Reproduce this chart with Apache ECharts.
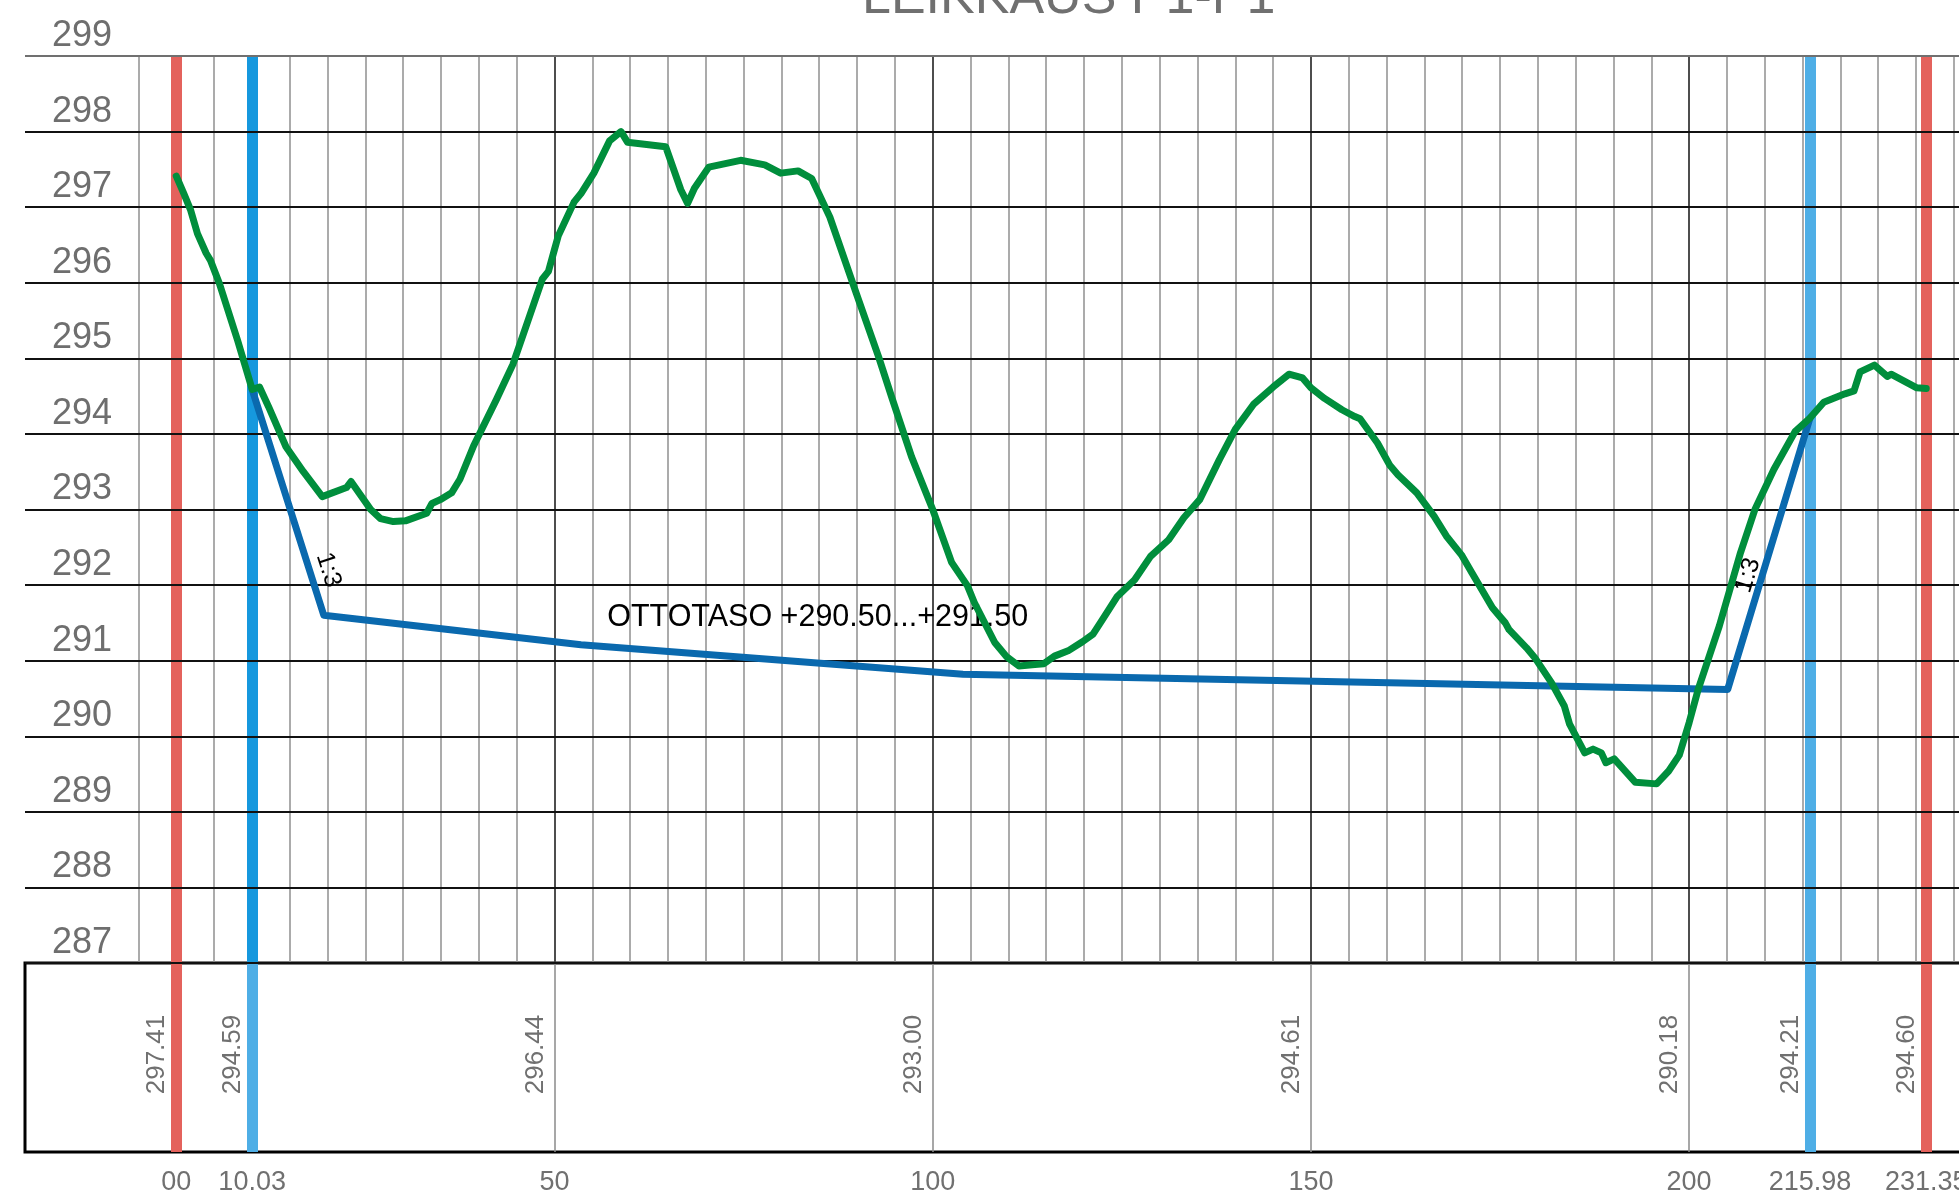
<!DOCTYPE html>
<html>
<head>
<meta charset="utf-8">
<script src="https://cdn.jsdelivr.net/npm/echarts@6/dist/echarts.min.js"></script>
<style>
html,body{margin:0;padding:0;background:#fff;overflow:hidden}
#c{width:1959px;height:1194px}
</style>
</head>
<body>
<div id="c"></div>
<script>
// ---------------- DATA ----------------
const chartTitle = 'LEIKKAUS P1-P1';

// ground profile (station, elevation)
const groundProfile = [
  [0, 297.41],[1.0, 297.18],[1.9, 296.96],[2.8, 296.65],[3.95, 296.39],[4.5, 296.30],[5.7, 295.99],
  [8.1, 295.24],[10.03, 294.59],[11.0, 294.62],[12.2, 294.36],[14.5, 293.83],[16.8, 293.5],[19.3, 293.17],
  [22.5, 293.29],[23.1, 293.37],[25.7, 293.0],[27.0, 292.88],[28.7, 292.84],[30.3, 292.85],[33.1, 292.95],
  [33.8, 293.08],[34.9, 293.13],[36.4, 293.22],[37.5, 293.4],[39.3, 293.84],[42.3, 294.45],[44.5, 294.92],
  [46.5, 295.5],[48.4, 296.05],[49.2, 296.15],[50, 296.44],[50.5, 296.62],[52.6, 297.07],[53.5, 297.18],
  [55.2, 297.45],[57.3, 297.88],[58.8, 298.0],[59.65, 297.86],[64.7, 297.8],[66.7, 297.23],[67.6, 297.05],
  [68.5, 297.25],[70.4, 297.53],[74.6, 297.62],[77.8, 297.56],[79.9, 297.45],[82.2, 297.48],[84.0, 297.38],
  [86.4, 296.87],[89.9, 295.86],[92.85, 295.02],[94.6, 294.48],[97.2, 293.7],[100, 293.0],[102.5, 292.3],
  [104.6, 291.99],[105.5, 291.77],[108.2, 291.24],[109.8, 291.05],[111.4, 290.93],[113.5, 290.95],
  [114.7, 290.96],[116.1, 291.06],[117.9, 291.13],[119.8, 291.25],[121.2, 291.35],[122.8, 291.6],
  [124.4, 291.85],[126.7, 292.07],[128.8, 292.38],[131.2, 292.6],[133.2, 292.89],[135.3, 293.13],
  [137.9, 293.66],[140.0, 294.06],[142.4, 294.39],[145.0, 294.62],[147.1, 294.79],[148.9, 294.74],
  [150, 294.61],[151.8, 294.47],[154.1, 294.32],[155.8, 294.23],[156.5, 294.2],[158.8, 293.88],
  [160.4, 293.59],[161.5, 293.46],[164.0, 293.22],[166.3, 292.91],[167.9, 292.65],[169.9, 292.4],
  [171.3, 292.16],[174.0, 291.7],[175.7, 291.5],[176.2, 291.41],[178.5, 291.17],[179.6, 291.04],
  [181.8, 290.71],[183.5, 290.4],[184.2, 290.16],[186.2, 289.78],[187.3, 289.83],[188.4, 289.78],
  [189.0, 289.65],[190.1, 289.70],[192.9, 289.39],[195.7, 289.37],[197.3, 289.54],[198.7, 289.75],
  [200, 290.18],[201.2, 290.62],[204.0, 291.46],[206.8, 292.43],[208.7, 293.0],[211.2, 293.53],
  [214.0, 294.03],[215.98, 294.21],[217.8, 294.42],[220.6, 294.53],[221.8, 294.57],[222.6, 294.82],
  [224.5, 294.91],[226.2, 294.76],[226.7, 294.79],[230.1, 294.61],[231.35, 294.60]
];

// excavation level (design) line
const designProfile = [
  [10.03, 294.59],[19.5, 291.6],[53.5, 291.21],[104.0, 290.82],[205.1, 290.62],[215.98, 294.21]
];

const redStations = [0, 231.35];
const blueStations = [10.03, 215.98];
const majorStations = [50, 100, 150, 200];

const boxStations = [0, 10.03, 50, 100, 150, 200, 215.98, 231.35];
const boxLabels = ['297.41', '294.59', '296.44', '293.00', '294.61', '290.18', '294.21', '294.60'];
const xTickLabels = ['00', '10.03', '50', '100', '150', '200', '215.98', '231.35'];

const annotationTexts = ['OTTOTASO +290.50...+291.50', '1:3', '1:3'];
const annotationAnchors = [[84.8, 291.57], [20.1, 292.2], [207.8, 292.13]];

const yMin = 287, yMax = 299, yStep = 1;
const xGridMin = -20, xLinesMin = -5, xMax = 235.68, xStep = 5;

// ---------------- LAYOUT / STYLE ----------------
const W = 1959, H = 1194;
const LEFT = 25, TOP = 56, PLOT_BOTTOM = 963, BOX_BOTTOM = 1152;
const scale = (W - LEFT) / (xMax - xGridMin);
const leftB = LEFT + (xLinesMin - xGridMin) * scale;
const maxC = xGridMin + (W + 10 - LEFT) / scale;
const FONT = "'Liberation Sans', Arial, Helvetica, sans-serif";
const RED = '#e4625c', BLUE_DARK = '#1698de', BLUE_LIGHT = '#4eaee6';
const annotationRot = [0, -72, 73];
const annotationSize = [30.5, 25, 25];
const annotationShift = [[0, 0], [0, 0], [0, 0]];

const nLines = Math.round((yMax - yMin) / yStep) + 1;
const hLineColors = [];
for (let i = 0; i < nLines; i++) hLineColors.push(i === nLines - 1 ? '#707070' : '#111111');

const chart = echarts.init(document.getElementById('c'), null, {renderer: 'canvas'});

const option = {
  animation: false,
  backgroundColor: '#ffffff',
  title: {
    text: chartTitle, left: 862, top: -27, padding: 0,
    textStyle: {fontSize: 52, fontWeight: 'normal', color: '#707070', fontFamily: FONT}
  },
  grid: [
    {left: LEFT, right: 0, top: TOP, bottom: H - PLOT_BOTTOM, containLabel: false, outerBoundsMode: 'none'},
    {left: leftB, right: 0, top: TOP, bottom: H - PLOT_BOTTOM, containLabel: false, outerBoundsMode: 'none'},
    {left: LEFT, right: -10, top: PLOT_BOTTOM, height: BOX_BOTTOM - PLOT_BOTTOM, show: true,
     borderColor: '#000', borderWidth: 3, backgroundColor: 'rgba(0,0,0,0)', containLabel: false, outerBoundsMode: 'none'}
  ],
  xAxis: [
    {gridIndex: 0, type: 'value', min: xGridMin, max: xMax, show: false},
    {gridIndex: 1, type: 'value', min: xLinesMin, max: xMax, interval: xStep, z: 0,
     axisLine: {show: false}, axisTick: {show: false}, axisLabel: {show: false},
     splitLine: {show: true, showMaxLine: false, lineStyle: {color: '#8f8f8f', width: 1.5}}},
    {gridIndex: 2, type: 'value', min: xGridMin, max: maxC, position: 'bottom',
     axisLine: {show: false}, axisTick: {show: false}, splitLine: {show: false},
     axisLabel: {show: true, customValues: boxStations, hideOverlap: false, margin: 17,
       fontSize: 27, color: '#707070', fontFamily: FONT,
       formatter: function (v) { const i = boxStations.indexOf(v); return i >= 0 ? xTickLabels[i] : ''; }}}
  ],
  yAxis: [
    {gridIndex: 0, type: 'value', min: yMin, max: yMax, interval: yStep, z: 3,
     axisLine: {show: false}, axisTick: {show: false},
     axisLabel: {inside: true, align: 'right', margin: 87, fontSize: 36, color: '#6e6e6e',
       fontFamily: FONT, verticalAlign: 'bottom', lineHeight: 36, padding: [0, 0, 2, 0]},
     splitLine: {show: true, lineStyle: {color: hLineColors, width: 2}}},
    {gridIndex: 1, type: 'value', min: yMin, max: yMax, show: false},
    {gridIndex: 2, type: 'value', min: 0, max: 1, show: false}
  ],
  series: [
    // major vertical grid lines + stake lines (upper part)
    {type: 'line', xAxisIndex: 1, yAxisIndex: 1, data: [], silent: true, z: 1,
     markLine: {silent: true, z: 1, symbol: ['none', 'none'], label: {show: false}, animation: false,
       lineStyle: {color: '#2e2e2e', width: 1.5, type: 'solid'},
       data: majorStations.map(s => ({xAxis: s}))}},
    {type: 'line', xAxisIndex: 1, yAxisIndex: 1, data: [], silent: true, z: 2,
     markLine: {silent: true, z: 2, symbol: ['none', 'none'], label: {show: false}, animation: false,
       data: redStations.map(s => ({xAxis: s, lineStyle: {color: RED, width: 11, type: 'solid', opacity: 1}}))
         .concat(blueStations.map((s, i) => ({xAxis: s, lineStyle: {color: i === 0 ? BLUE_DARK : BLUE_LIGHT, width: 11, type: 'solid', opacity: 1}})))}},
    // lower box lines
    {type: 'line', xAxisIndex: 2, yAxisIndex: 2, data: [], silent: true, z: 1,
     markLine: {silent: true, z: 1, symbol: ['none', 'none'], label: {show: false}, animation: false,
       lineStyle: {color: '#8a8a8a', width: 1.5, type: 'solid'},
       data: majorStations.map(s => ({xAxis: s}))}},
    {type: 'line', xAxisIndex: 2, yAxisIndex: 2, data: [], silent: true, z: 2,
     markLine: {silent: true, z: 2, symbol: ['none', 'none'], label: {show: false}, animation: false,
       data: redStations.map(s => ({xAxis: s, lineStyle: {color: RED, width: 11, type: 'solid', opacity: 1}}))
         .concat(blueStations.map(s => ({xAxis: s, lineStyle: {color: BLUE_LIGHT, width: 11, type: 'solid', opacity: 1}})))}},
    // elevation labels in the lower box
    {type: 'custom', xAxisIndex: 2, yAxisIndex: 2, silent: true, z: 4,
     data: boxStations.map(s => [s, 0.5]),
     renderItem: function (params, api) {
       const p = api.coord([api.value(0), api.value(1)]);
       return {type: 'text', x: p[0] - 19, y: p[1] - 3, rotation: Math.PI / 2,
         style: {text: boxLabels[params.dataIndex], fill: '#707070', fontSize: 26, fontFamily: FONT,
           align: 'center', verticalAlign: 'middle'}};
     }},
    // OTTOTASO text
    {type: 'custom', xAxisIndex: 1, yAxisIndex: 1, silent: true, z: 4,
     data: annotationAnchors.slice(0, 1),
     renderItem: function (params, api) {
       const p = api.coord([api.value(0), api.value(1)]);
       return {type: 'text', x: p[0], y: p[1],
         style: {text: annotationTexts[0], fill: '#000', fontSize: annotationSize[0], fontFamily: FONT,
           align: 'center', verticalAlign: 'middle'}};
     }},
    // design line
    {type: 'line', name: 'design', xAxisIndex: 1, yAxisIndex: 1, data: designProfile, z: 5,
     showSymbol: false, symbol: 'none', smooth: false, silent: true,
     lineStyle: {color: '#0a69ae', width: 7, join: 'round', cap: 'round'}},
    // 1:3 labels
    {type: 'custom', xAxisIndex: 1, yAxisIndex: 1, silent: true, z: 6,
     data: annotationAnchors.slice(1),
     renderItem: function (params, api) {
       const i = params.dataIndex + 1;
       const p = api.coord([api.value(0), api.value(1)]);
       return {type: 'text', x: p[0] + annotationShift[i][0], y: p[1] + annotationShift[i][1],
         rotation: annotationRot[i] * Math.PI / 180,
         style: {text: annotationTexts[i], fill: '#000', fontSize: annotationSize[i], fontFamily: FONT,
           align: 'center', verticalAlign: 'middle'}};
     }},
    // ground line
    {type: 'line', name: 'ground', xAxisIndex: 1, yAxisIndex: 1, data: groundProfile, z: 7,
     showSymbol: false, symbol: 'none', smooth: false, silent: true,
     lineStyle: {color: '#008e3c', width: 7, join: 'round', cap: 'round'}}
  ]
};
chart.setOption(option);
</script>
</body>
</html>
